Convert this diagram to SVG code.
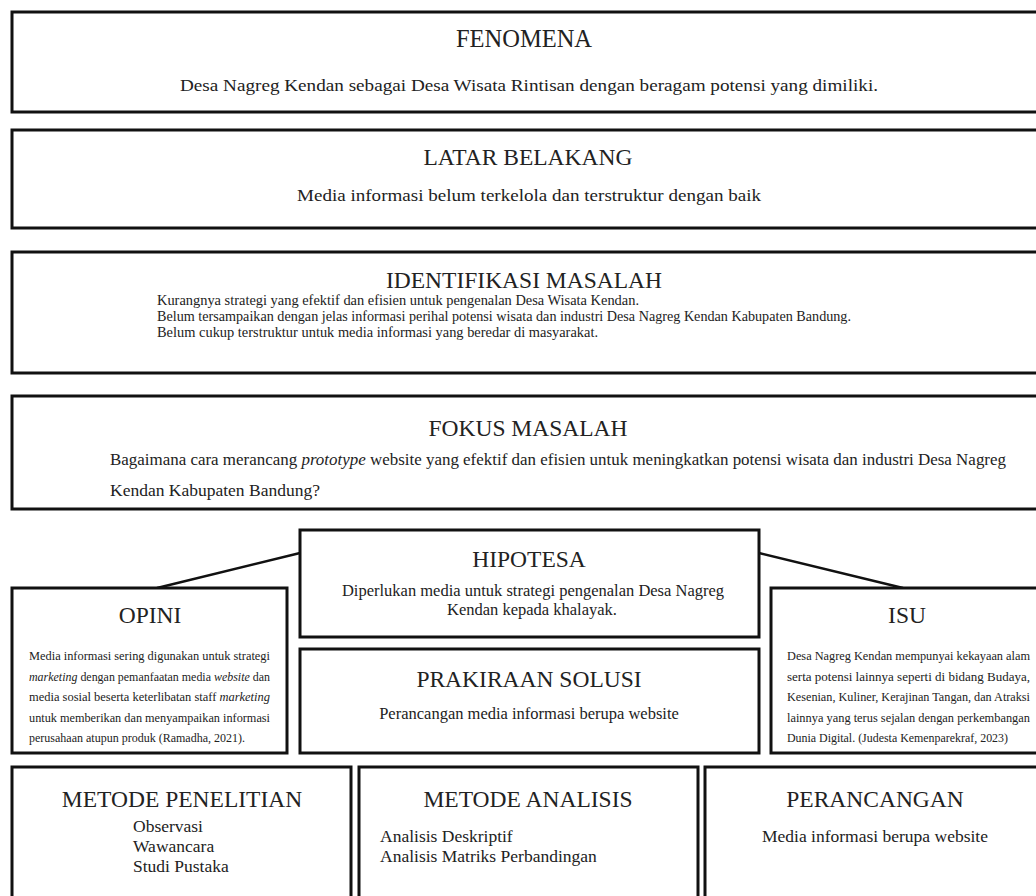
<svg xmlns="http://www.w3.org/2000/svg" width="1036" height="896" viewBox="0 0 1036 896">
<style>
.box{fill:#fff;stroke:#111;stroke-width:3}
.t{font-family:"Liberation Serif","Times New Roman",serif;fill:#222}
.h{font-size:23.5px;text-anchor:middle}
.b{font-size:17.5px}
.s{font-size:14px}
.x{font-size:11.5px}
.m{font-size:16.5px;text-anchor:middle}
.c{text-anchor:middle}
.conn{stroke:#111;stroke-width:2.5;fill:none}
</style>
<rect width="1036" height="896" fill="#fff"/>
<g id="connectors">
<line class="conn" x1="157" y1="588" x2="300" y2="553"/>
<line class="conn" x1="759" y1="553" x2="903" y2="588"/>
</g>
<g id="fenomena">
<rect class="box" x="12" y="12" width="1040" height="100"/>
<text class="t h" x="524" y="47" style="font-size:24.5px">FENOMENA</text>
<text class="t b" x="180" y="91" textLength="698" lengthAdjust="spacingAndGlyphs">Desa Nagreg Kendan sebagai Desa Wisata Rintisan dengan beragam potensi yang dimiliki.</text>
</g>
<g id="latar">
<rect class="box" x="12" y="130" width="1040" height="98"/>
<text class="t h" x="528" y="165">LATAR BELAKANG</text>
<text class="t b" x="297" y="201" textLength="464" lengthAdjust="spacingAndGlyphs">Media informasi belum terkelola dan terstruktur dengan baik</text>
</g>
<g id="identifikasi">
<rect class="box" x="12" y="252" width="1040" height="121"/>
<text class="t h" x="524" y="288">IDENTIFIKASI MASALAH</text>
<text class="t s" x="157" y="305" textLength="482" lengthAdjust="spacingAndGlyphs">Kurangnya strategi yang efektif dan efisien untuk pengenalan Desa Wisata Kendan.</text>
<text class="t s" x="157" y="321" textLength="694" lengthAdjust="spacingAndGlyphs">Belum tersampaikan dengan jelas informasi perihal potensi wisata dan industri Desa Nagreg Kendan Kabupaten Bandung.</text>
<text class="t s" x="157" y="337" textLength="441" lengthAdjust="spacingAndGlyphs">Belum cukup terstruktur untuk media informasi yang beredar di masyarakat.</text>
</g>
<g id="fokus">
<rect class="box" x="12" y="396" width="1040" height="113"/>
<text class="t h" x="528" y="436">FOKUS MASALAH</text>
<text class="t b" x="110" y="465" textLength="896" lengthAdjust="spacingAndGlyphs">Bagaimana cara merancang <tspan font-style="italic">prototype</tspan> website yang efektif dan efisien untuk meningkatkan potensi wisata dan industri Desa Nagreg</text>
<text class="t b" x="110" y="496">Kendan Kabupaten Bandung?</text>
</g>
<g id="hipotesa">
<rect class="box" x="300" y="530" width="459" height="107"/>
<text class="t h" x="529" y="567">HIPOTESA</text>
<text class="t m" x="533" y="596">Diperlukan media untuk strategi pengenalan Desa Nagreg</text>
<text class="t m" x="532" y="615">Kendan kepada khalayak.</text>
</g>
<g id="prakiraan">
<rect class="box" x="300" y="649" width="459" height="104"/>
<text class="t h" x="529" y="687">PRAKIRAAN SOLUSI</text>
<text class="t m" x="529" y="719">Perancangan media informasi berupa website</text>
</g>
<g id="opini">
<rect class="box" x="12" y="588" width="275" height="165"/>
<text class="t h" x="150" y="623">OPINI</text>
<text class="t x" x="29" y="660" textLength="241" lengthAdjust="spacingAndGlyphs">Media informasi sering digunakan untuk strategi</text>
<text class="t x" x="29" y="680.5" textLength="241" lengthAdjust="spacingAndGlyphs"><tspan font-style="italic">marketing</tspan> dengan pemanfaatan media <tspan font-style="italic">website</tspan> dan</text>
<text class="t x" x="29" y="701" textLength="241" lengthAdjust="spacingAndGlyphs">media sosial beserta keterlibatan staff <tspan font-style="italic">marketing</tspan></text>
<text class="t x" x="29" y="721.5" textLength="241" lengthAdjust="spacingAndGlyphs">untuk memberikan dan menyampaikan informasi</text>
<text class="t x" x="29" y="742" textLength="216" lengthAdjust="spacingAndGlyphs">perusahaan atupun produk (Ramadha, 2021).</text>
</g>
<g id="isu">
<rect class="box" x="771" y="588" width="280" height="165"/>
<text class="t h" x="907" y="623">ISU</text>
<text class="t x" x="787" y="660" textLength="243" lengthAdjust="spacingAndGlyphs">Desa Nagreg Kendan mempunyai kekayaan alam</text>
<text class="t x" x="787" y="680.5" textLength="243" lengthAdjust="spacingAndGlyphs">serta potensi lainnya seperti di bidang Budaya,</text>
<text class="t x" x="787" y="701" textLength="243" lengthAdjust="spacingAndGlyphs">Kesenian, Kuliner, Kerajinan Tangan, dan Atraksi</text>
<text class="t x" x="787" y="721.5" textLength="243" lengthAdjust="spacingAndGlyphs">lainnya yang terus sejalan dengan perkembangan</text>
<text class="t x" x="787" y="742" textLength="221" lengthAdjust="spacingAndGlyphs">Dunia Digital. (Judesta Kemenparekraf, 2023)</text>
</g>
<g id="metode-penelitian">
<rect class="box" x="12" y="767" width="339" height="140"/>
<text class="t h" x="182" y="807">METODE PENELITIAN</text>
<text class="t b" x="133" y="832">Observasi</text>
<text class="t b" x="133" y="852">Wawancara</text>
<text class="t b" x="133" y="872">Studi Pustaka</text>
</g>
<g id="metode-analisis">
<rect class="box" x="359" y="767" width="339" height="140"/>
<text class="t h" x="528" y="807">METODE ANALISIS</text>
<text class="t b" x="380" y="842">Analisis Deskriptif</text>
<text class="t b" x="380" y="862">Analisis Matriks Perbandingan</text>
</g>
<g id="perancangan">
<rect class="box" x="705" y="767" width="346" height="140"/>
<text class="t h" x="875" y="807">PERANCANGAN</text>
<text class="t b c" x="875" y="842">Media informasi berupa website</text>
</g>
</svg>
